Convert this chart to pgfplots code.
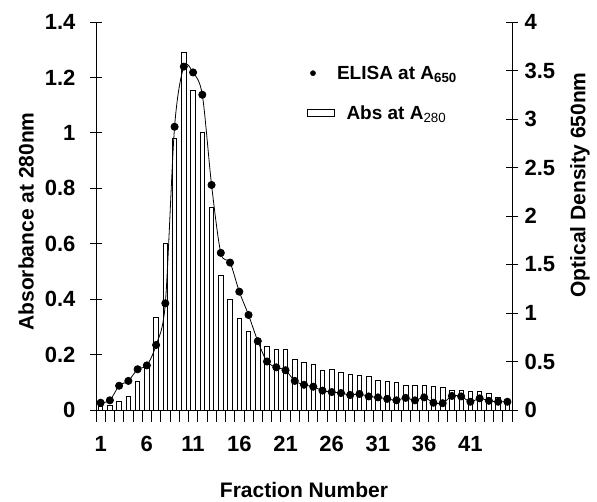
\documentclass[border=0pt]{standalone}
\usepackage{fontspec}
\setmainfont{Liberation Sans}
\usepackage{pgfplots}
\pgfplotsset{compat=1.18}
\pgfplotstableread{
n v
1 0.012
2 0.015
3 0.03
4 0.05
5 0.105
6 0.16
7 0.335
8 0.60
9 0.98
10 1.29
11 1.155
12 1.0
13 0.73
14 0.487
15 0.40
16 0.33
17 0.285
18 0.243
19 0.23
20 0.217
21 0.217
22 0.184
23 0.173
24 0.163
25 0.142
26 0.148
27 0.137
28 0.13
29 0.126
30 0.12
31 0.108
32 0.103
33 0.10
34 0.09
35 0.087
36 0.087
37 0.084
38 0.08
39 0.072
40 0.07
41 0.066
42 0.066
43 0.06
44 0.045
45 0.036
}\absdata
\pgfplotstableread{
n v
1 0.075
2 0.10
3 0.25
4 0.30
5 0.42
6 0.46
7 0.67
8 1.10
9 2.92
10 3.54
11 3.48
12 3.25
13 2.32
14 1.62
15 1.52
16 1.22
17 0.98
18 0.71
19 0.50
20 0.44
21 0.41
22 0.30
23 0.26
24 0.24
25 0.20
26 0.185
27 0.175
28 0.155
29 0.165
30 0.14
31 0.13
32 0.115
33 0.10
34 0.125
35 0.10
36 0.13
37 0.075
38 0.07
39 0.145
40 0.14
41 0.085
42 0.12
43 0.095
44 0.085
45 0.085
}\elisadata
\begin{document}
\begin{tikzpicture}
\useasboundingbox (-96pt,-91pt) rectangle (501pt,410pt);
\pgfplotsset{
  base/.style={scale only axis, width=416pt, height=388pt,
    at={(0pt,0pt)}, anchor=south west,
    xmin=0.5, xmax=45.5,
    /pgf/number format/assume math mode=true,
    tick label style={font=\fontsize{22}{26}\selectfont\bfseries},
    label style={font=\fontsize{21}{25}\selectfont\bfseries},
    axis line style={-, line width=0.9pt},
    every tick/.style={black, line width=0.8pt},
    tick align=center, major tick length=12pt,
  }
}
\begin{axis}[base,
  axis x line*=bottom, axis y line*=left,
  ymin=0, ymax=1.4,
  ytick={0,0.2,0.4,0.6,0.8,1,1.2,1.4},
  yticklabel style={/pgf/number format/fixed, xshift=-11pt},
  xtick={0.5,1.5,...,45.5}, xticklabels={{}},
  extra x ticks={1,6,11,16,21,26,31,36,41},
  extra x tick labels={1,6,11,16,21,26,31,36,41},
  extra x tick style={major tick length=0pt, tick label style={yshift=-23pt}},
  ybar, bar width=4.5pt,
  ylabel={Absorbance at 280nm},
  ylabel style={at={(axis description cs:-0.168,0.486)}, anchor=center},
  xlabel={Fraction Number},
  xlabel style={at={(axis description cs:0.5,-0.206)}, anchor=center},
]
\addplot[draw=black, fill=white, line width=0.8pt] table[x=n, y=v] {\absdata};
\end{axis}
\begin{axis}[base,
  axis x line=none, axis y line*=right,
  ymin=0, ymax=4,
  ytick={0,0.5,1,1.5,2,2.5,3,3.5,4},
  yticklabel style={/pgf/number format/fixed, xshift=3pt},
  ylabel={Optical Density 650nm},
  ylabel style={at={(axis description cs:1.1635,0.58)}, anchor=center},
  legend style={draw=none, fill=none, at={(axis description cs:0.5,0.898)}, anchor=north west,
    font=\fontsize{19}{23}\selectfont\bfseries, row sep=21pt},
  legend cell align=left,
]
\addplot[black, line width=0.8pt, smooth, mark=*, mark size=3.6pt, forget plot] table[x=n, y=v] {\elisadata};
\addlegendimage{only marks, mark=*, mark size=2.6pt, black, xshift=-6pt}
\addlegendentry{ELISA at A\textsubscript{650}}
\addlegendimage{legend image code/.code={\draw[black, fill=white, line width=0.8pt] (-0.1cm,-0.12cm) rectangle (0.85cm,0.12cm);}}
\addlegendentry{\hspace{0.5em}Abs at A\textsubscript{\mdseries 280}}
\end{axis}
\end{tikzpicture}
\end{document}
